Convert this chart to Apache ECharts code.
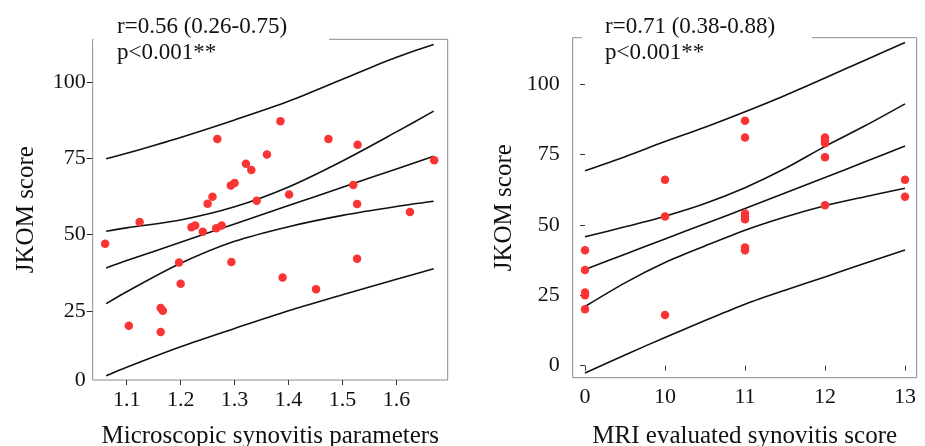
<!DOCTYPE html>
<html><head><meta charset="utf-8">
<script src="https://cdn.jsdelivr.net/npm/echarts@6/dist/echarts.min.js"></script>
<style>html,body{margin:0;padding:0;background:#fff}#c{width:925px;height:446px}</style>
</head><body><div id="c"></div>
<script>
// ---- Left panel: Microscopic synovitis parameters vs JKOM score ----
const leftX = [1.060,1.104,1.124,1.163,1.167,1.163,1.197,1.200,1.220,1.227,1.241,1.250,1.259,1.268,1.266,1.276,1.293,1.300,1.294,1.321,1.331,1.341,1.360,1.385,1.401,1.389,1.451,1.474,1.528,1.520,1.527,1.527,1.625,1.670];
const leftY = [47.0,20.2,54.1,26.0,25.1,18.1,40.9,33.9,52.4,53.0,50.9,60.1,62.4,81.3,52.1,53.0,66.1,66.9,41.0,73.2,71.1,61.1,76.2,87.1,63.1,36.0,32.1,81.3,79.4,66.2,60.0,42.1,57.4,74.3];
const leftCurveX      = [1.062,1.10,1.20,1.30,1.40,1.50,1.60,1.669];
const leftUpperPred   = [74.8,76.6,81.8,87.5,93.6,100.8,108.0,112.2];
const leftUpperCI     = [51.1,52.2,54.8,59.1,65.6,74.1,83.6,90.4];
const leftFit         = [39.1,41.5,47.5,53.5,59.5,65.5,71.5,75.6];
const leftLowerCI     = [27.4,31.3,40.6,47.8,52.6,56.3,59.2,60.9];
const leftLowerPred   = [3.8,6.6,13.3,19.3,25.1,30.3,35.4,38.8];
const leftXTicks = [1.1,1.2,1.3,1.4,1.5,1.6];
const leftYTicks = [0,25,50,75,100];

// ---- Right panel: MRI evaluated synovitis score vs JKOM score ----
const rightXLabels = ['0','10','11','12','13'];
const rightXIdx = [0,0,0,0,0, 1,1,1, 2,2,2,2,2,2,2, 3,3,3,3,3, 4,4];
const rightY    = [41,34,26,25,20, 66,53,18, 87,81,54,53,52,42,41, 81,80,79,74,57, 66,60];
const rightCurveX    = [0,0.5,1,1.5,2,2.5,3,3.5,4];
const rightUpperPred = [69.2,74.2,79.6,84.7,90.2,96.0,102.2,108.5,114.8];
const rightUpperCI   = [45.8,49.3,53.1,57.6,63.2,70.0,77.9,85.2,93.0];
const rightFit       = [34.1,39.6,45.0,50.4,55.8,61.3,66.8,72.4,78.0];
const rightLowerCI   = [21.0,29.4,36.6,42.5,48.1,52.8,56.8,60.0,63.0];
const rightLowerPred = [-2.6,3.8,10.0,16.0,21.8,26.8,31.5,36.4,41.1];
const rightYTicks = [0,25,50,75,100];

const leftStats  = ['r=0.56 (0.26-0.75)','p<0.001**'];
const rightStats = ['r=0.71 (0.38-0.88)','p<0.001**'];

const FONT = '"Liberation Serif","Times New Roman",serif';
const RED = 'rgb(250,52,52)';
const LEFT_YMIN = 2.43, LEFT_YMAX = 113.9;

function pairs(xs, ys){ return xs.map((x,i)=>[x, ys[i]]); }
function curve(xs, ys, axisIdx){
  return {type:'line', xAxisIndex:axisIdx, yAxisIndex:axisIdx, data:pairs(xs,ys),
    smooth:0.3, showSymbol:false, symbol:'none', silent:true,
    lineStyle:{color:'#111', width:1.6}, z:3};
}
const tickLbl = {fontFamily:FONT, fontSize:22, color:'#111'};
const nameSty = {fontFamily:FONT, fontSize:25, color:'#111'};

const chart = echarts.init(document.getElementById('c'), null, {renderer:'canvas'});
chart.setOption({
  animation:false,
  backgroundColor:'#fff',
  grid:[
    {left:92.7, top:39.3, width:355, height:340.7, outerBoundsMode:'none', containLabel:false,
     show:true, borderColor:'#8a8a8a', borderWidth:1, backgroundColor:'transparent'},
    {left:572.7, top:37.7, width:344, height:340, outerBoundsMode:'none', containLabel:false,
     show:true, borderColor:'#8a8a8a', borderWidth:1, backgroundColor:'transparent'}
  ],
  xAxis:[
    {type:'value', gridIndex:0, min:1.037, max:1.695,
     name:'Microscopic synovitis parameters', nameLocation:'middle', nameGap:44, nameTextStyle:nameSty,
     axisLine:{show:false}, splitLine:{show:false},
     axisTick:{show:true, customValues:leftXTicks, length:5, lineStyle:{color:'#333'}},
     axisLabel:Object.assign({customValues:leftXTicks, margin:9, formatter:v=>v.toFixed(1)}, tickLbl)},
    {type:'value', gridIndex:1, min:-0.154, max:4.146,
     name:'MRI evaluated synovitis score', nameLocation:'middle', nameGap:46, nameTextStyle:nameSty,
     axisLine:{show:false}, splitLine:{show:false},
     axisTick:{show:true, customValues:[0,1,2,3,4], length:5, lineStyle:{color:'#333'}},
     axisLabel:Object.assign({customValues:[0,1,2,3,4], margin:9, formatter:v=>rightXLabels[Math.round(v)]}, tickLbl)}
  ],
  yAxis:[
    {type:'value', gridIndex:0, min:LEFT_YMIN, max:LEFT_YMAX,
     name:'JKOM score', nameLocation:'middle', nameGap:54, nameRotate:90, nameTextStyle:nameSty,
     axisLine:{show:false}, splitLine:{show:false},
     axisTick:{show:true, customValues:leftYTicks.filter(v=>v>LEFT_YMIN), length:6, lineStyle:{color:'#333'}},
     axisLabel:Object.assign({customValues:leftYTicks.map(v=>v<LEFT_YMIN?LEFT_YMIN:v), margin:7,
       formatter:v=>(v<=LEFT_YMIN+0.001? String(leftYTicks[0]) : String(Math.round(v)))}, tickLbl)},
    {type:'value', gridIndex:1, min:-4.3, max:116.5,
     name:'JKOM score', nameLocation:'middle', nameGap:56, nameRotate:90, nameTextStyle:nameSty,
     axisLine:{show:false}, splitLine:{show:false},
     axisTick:{show:true, customValues:rightYTicks, length:5, lineStyle:{color:'#333'}},
     axisLabel:Object.assign({customValues:rightYTicks, margin:13, formatter:v=>String(Math.round(v))}, tickLbl)}
  ],
  graphic:[
    {type:'rect', shape:{x:93.5, y:30, width:235.5, height:18}, style:{fill:'#fff'}, z:100, silent:true},
    {type:'text', x:117, y:15, style:{text:leftStats[0], font:'23px '+FONT, fill:'#111', textVerticalAlign:'top'}, z:101},
    {type:'text', x:117, y:41.5, style:{text:leftStats[1], font:'23px '+FONT, fill:'#111', textVerticalAlign:'top'}, z:101},
    {type:'rect', shape:{x:582, y:28, width:230, height:18}, style:{fill:'#fff'}, z:100, silent:true},
    {type:'text', x:605, y:15, style:{text:rightStats[0], font:'23px '+FONT, fill:'#111', textVerticalAlign:'top'}, z:101},
    {type:'text', x:605, y:41.5, style:{text:rightStats[1], font:'23px '+FONT, fill:'#111', textVerticalAlign:'top'}, z:101}
  ],
  series:[
    curve(leftCurveX, leftUpperPred, 0),
    curve(leftCurveX, leftUpperCI, 0),
    curve(leftCurveX, leftFit, 0),
    curve(leftCurveX, leftLowerCI, 0),
    curve(leftCurveX, leftLowerPred, 0),
    {type:'scatter', xAxisIndex:0, yAxisIndex:0, data:pairs(leftX,leftY), symbolSize:8.5,
     itemStyle:{color:RED, opacity:1}, z:4},
    curve(rightCurveX, rightUpperPred, 1),
    curve(rightCurveX, rightUpperCI, 1),
    curve(rightCurveX, rightFit, 1),
    curve(rightCurveX, rightLowerCI, 1),
    curve(rightCurveX, rightLowerPred, 1),
    {type:'scatter', xAxisIndex:1, yAxisIndex:1, data:pairs(rightXIdx,rightY), symbolSize:8.5,
     itemStyle:{color:RED, opacity:1}, z:4}
  ]
});
</script></body></html>
